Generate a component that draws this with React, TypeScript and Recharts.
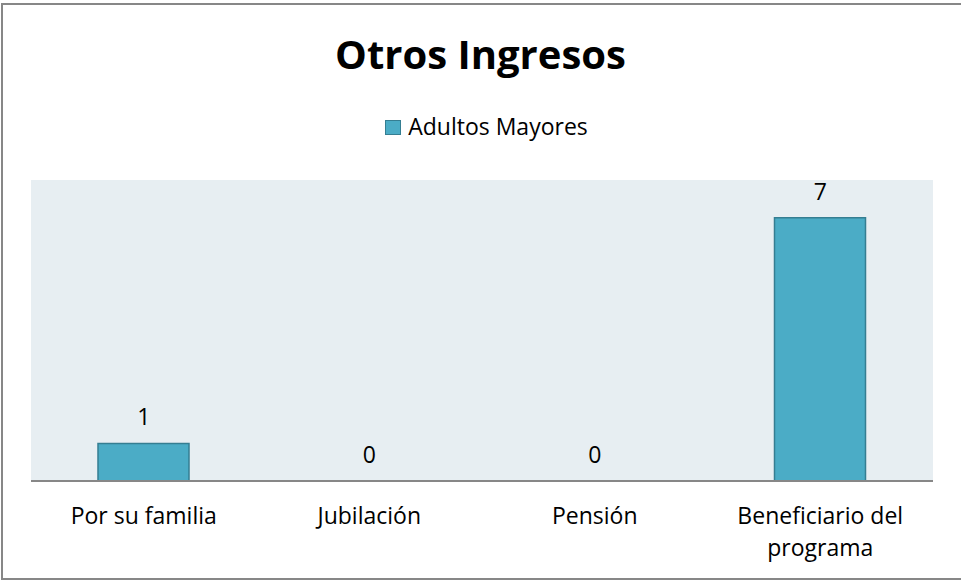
import React from "react";
import { ComposedChart, Bar, Line, XAxis, YAxis, CartesianGrid, LabelList } from "recharts";

const categories = ["Por su familia", "Jubilación", "Pensión", "Beneficiario del programa"];
const tickLabelLines: Record<string, string[]> = {
  "Por su familia": ["Por su familia"],
  "Jubilación": ["Jubilación"],
  "Pensión": ["Pensión"],
  "Beneficiario del programa": ["Beneficiario del", "programa"],
};
const adultosMayores = [1, 0, 0, 7];
const seriesName = "Adultos Mayores";
const chartTitle = "Otros Ingresos";

const data = categories.map((c, i) => ({ name: c, value: adultosMayores[i] }));

const FONT = "'Open Sans', Lato, sans-serif";
const BAR_FILL = "#4BACC6";
const BAR_STROKE = "#357E92";

const Tick = (props: any) => {
  const { x, y, payload } = props;
  const lines = tickLabelLines[payload.value] || [String(payload.value)];
  return (
    <text x={x} y={y} textAnchor="middle" style={{ fontFamily: FONT, fontSize: 23, fill: "#000" }}>
      {lines.map((l, i) => (
        <tspan key={i} x={x} y={y + 35 + i * 32}>
          {l}
        </tspan>
      ))}
    </text>
  );
};

export default function App() {
  return (
    <div style={{ position: "absolute", left: 0, top: 0, width: 961, height: 580, background: "#fff", overflow: "hidden" }}>
      <div style={{ position: "absolute", left: 1, top: 3, width: 970, height: 577, border: "2px solid #878787", boxSizing: "border-box" }} />
      <div style={{ position: "absolute", left: 0, top: 27, width: 961, textAlign: "center", fontFamily: FONT, fontWeight: 700, fontSize: 40, color: "#000", lineHeight: 1.362, whiteSpace: "nowrap" }}>
        {chartTitle}
      </div>
      <div style={{ position: "absolute", left: 0, top: 111, width: 973, height: 31, display: "flex", justifyContent: "center", alignItems: "center", fontFamily: FONT, fontSize: 23, color: "#000", lineHeight: 1.362, whiteSpace: "nowrap" }}>
        <span style={{ display: "inline-block", width: 16, height: 15, background: BAR_FILL, border: `1.5px solid ${BAR_STROKE}`, boxSizing: "border-box", marginRight: 7, marginTop: 1 }} />
        <span>{seriesName}</span>
      </div>
      <div style={{ position: "absolute", left: 0, top: 0 }}>
        <ComposedChart width={961} height={580} data={data} margin={{ top: 180, right: 28, bottom: 0, left: 31 }}>
          <CartesianGrid horizontal={false} vertical={false} fill="#E7EEF2" />
          <YAxis hide domain={[0, 8]} />
          <XAxis
            dataKey="name"
            height={99}
            axisLine={{ stroke: "#878787", strokeWidth: 2 }}
            tickLine={false}
            tick={<Tick />}
            interval={0}
          />
          <Bar dataKey="value" name={seriesName} fill={BAR_FILL} stroke={BAR_STROKE} strokeWidth={1.5} barSize={91} isAnimationActive={false} />
          <Line dataKey="value" stroke="none" dot={false} activeDot={false} legendType="none" isAnimationActive={false}>
            <LabelList dataKey="value" position="top" offset={18} style={{ fontFamily: FONT, fontSize: 23, fill: "#000" }} />
          </Line>
        </ComposedChart>
      </div>
    </div>
  );
}
